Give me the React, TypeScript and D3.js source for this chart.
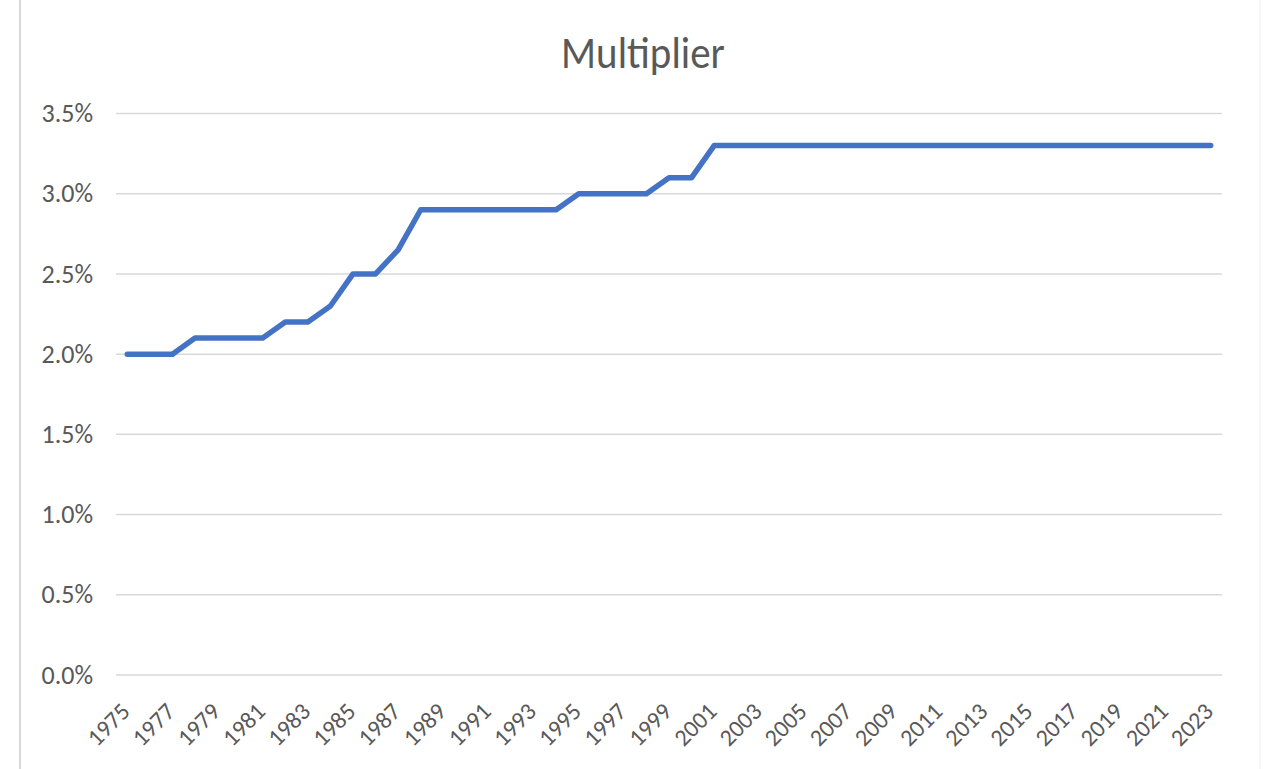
import React from "react";
import * as d3 from "d3";

const years: number[] = d3.range(1975, 2024);
const multiplier: number[] = [
  2.0, 2.0, 2.0, 2.1, 2.1, 2.1, 2.1, 2.2, 2.2, 2.3,
  2.5, 2.5, 2.65, 2.9, 2.9, 2.9, 2.9, 2.9, 2.9, 2.9,
  3.0, 3.0, 3.0, 3.0, 3.1, 3.1, 3.3, 3.3, 3.3, 3.3,
  3.3, 3.3, 3.3, 3.3, 3.3, 3.3, 3.3, 3.3, 3.3, 3.3,
  3.3, 3.3, 3.3, 3.3, 3.3, 3.3, 3.3, 3.3, 3.3,
];
const yTicks: number[] = [0, 0.5, 1.0, 1.5, 2.0, 2.5, 3.0, 3.5];
const title = "Multiplier";

const W = 1271;
const H = 769;
const M = { left: 116, right: 1222, top: 113.5, bottom: 675 };
const font = "Calibri, Carlito, 'Open Sans', 'Noto Sans', sans-serif";
const textColor = "#595959";

export default function App() {
  const x = d3
    .scaleBand<number>()
    .domain(years)
    .range([M.left, M.right]);
  const y = d3.scaleLinear().domain([0, 3.5]).range([M.bottom, M.top]);
  const line = d3
    .line<number>()
    .x((_, i) => (x(years[i]) as number) + x.bandwidth() / 2)
    .y((d) => y(d));

  return (
    <svg
      width={W}
      height={H}
      style={{ position: "absolute", left: 0, top: 0, background: "#fff" }}
      fontFamily={font}
    >
      <rect x={0} y={0} width={W} height={H} fill="#fff" />
      <line x1={20} x2={20} y1={0} y2={H} stroke="#d9d9d9" strokeWidth={2} />
      <line x1={1260} x2={1260} y1={0} y2={H} stroke="#f0f0f0" strokeWidth={1} />
      <text
        x={643}
        y={68}
        textAnchor="middle"
        fontSize={41}
        fill={textColor}
        transform="translate(0,68) scale(1,1.12) translate(0,-68)"
      >
        {title}
      </text>
      {yTicks.map((t) => (
        <g key={t}>
          <line
            x1={M.left}
            x2={M.right}
            y1={y(t)}
            y2={y(t)}
            stroke="#d9d9d9"
            strokeWidth={1.5}
          />
          <text
            x={93}
            y={y(t)}
            dy="0.33em"
            textAnchor="end"
            fontSize={26}
            fill={textColor}
          >
            {t.toFixed(1) + "%"}
          </text>
        </g>
      ))}
      {years
        .filter((_, i) => i % 2 === 0)
        .map((yr) => {
          const cx = (x(yr) as number) + x.bandwidth() / 2;
          return (
            <text
              key={yr}
              transform={`translate(${cx + 4},713) rotate(-45)`}
              textAnchor="end"
              fontSize={24}
              fill={textColor}
            >
              {String(yr)}
            </text>
          );
        })}
      <path
        d={line(multiplier) || ""}
        fill="none"
        stroke="#4472C4"
        strokeWidth={5.5}
        strokeLinejoin="round"
        strokeLinecap="round"
      />
    </svg>
  );
}
